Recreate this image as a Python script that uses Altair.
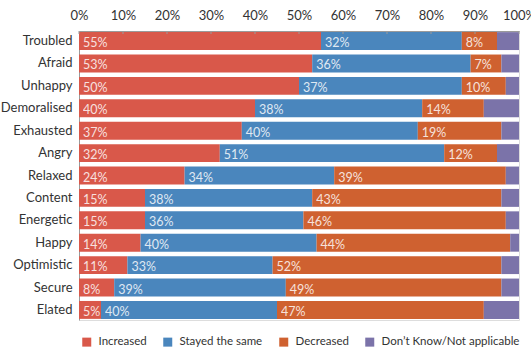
import altair as alt
import pandas as pd

emotions = ["Troubled", "Afraid", "Unhappy", "Demoralised", "Exhausted", "Angry",
            "Relaxed", "Content", "Energetic", "Happy", "Optimistic", "Secure", "Elated"]
increased = [55, 53, 50, 40, 37, 32, 24, 15, 15, 14, 11, 8, 5]
stayed = [32, 36, 37, 38, 40, 51, 34, 38, 36, 40, 33, 39, 40]
decreased = [8, 7, 10, 14, 19, 12, 39, 43, 46, 44, 52, 49, 47]
dont_know = [5, 4, 3, 8, 4, 5, 3, 4, 3, 2, 4, 4, 8]
responses = ["Increased", "Stayed the same", "Decreased", "Don’t Know/Not applicable"]
colors = ["#D9584A", "#4A86BD", "#CF6130", "#7B73A9"]
tick_values = [0, 10, 20, 30, 40, 50, 60, 70, 80, 90, 100]

FONT = "Lato"

rows = []
for i, emo in enumerate(emotions):
    for j, series in enumerate([increased, stayed, decreased, dont_know]):
        v = series[i]
        rows.append({"emotion": emo, "response": responses[j], "order": j,
                     "value": v, "label": f"{v}%" if j < 3 else ""})
df = pd.DataFrame(rows)

xscale = alt.Scale(domain=[0, 100], nice=False, zero=True)
yscale = alt.Scale(domain=emotions, paddingInner=0.2, paddingOuter=0.05)

base = alt.Chart(df)

bars = base.mark_bar().encode(
    x=alt.X("value:Q", stack="zero", scale=xscale, title=None,
            axis=alt.Axis(orient="top", values=tick_values, labelExpr="datum.value + '%'",
                          ticks=False, domain=True, domainColor="#9a9a9a", grid=False,
                          labelFont=FONT, labelFontSize=13, labelColor="#333333",
                          labelPadding=9, labelFlush=False)),
    y=alt.Y("emotion:N", sort=emotions, scale=yscale, title=None,
            axis=alt.Axis(ticks=False, domain=True, domainColor="#9a9a9a",
                          labelFont=FONT, labelFontSize=13, labelColor="#333333",
                          labelPadding=7)),
    color=alt.Color("response:N", scale=alt.Scale(domain=responses, range=colors),
                    legend=alt.Legend(orient="none", legendX=2, legendY=305,
                                      direction="horizontal", title=None,
                                      symbolType="square", symbolSize=81,
                                      symbolStrokeWidth=0, symbolOpacity=1,
                                      labelFont=FONT, labelFontSize=11.5,
                                      labelColor="#333333", labelOffset=6,
                                      columnPadding=15, labelLimit=300)),
    order=alt.Order("order:Q"),
)

labels = base.transform_stack(
    stack="value", groupby=["emotion"], sort=[alt.SortField("order")], as_=["x0", "x1"]
).transform_filter("datum.order < 3").mark_text(
    align="left", baseline="middle", dx=4, dy=2, font=FONT, fontSize=12.5,
    color="white", opacity=0.82
).encode(
    x=alt.X("x0:Q", scale=xscale, title=None),
    y=alt.Y("emotion:N", sort=emotions, scale=yscale, title=None),
    text="label:N",
)

tick_df = pd.DataFrame({"tick": tick_values})
ticks = alt.Chart(tick_df).mark_rule(color="#9a9a9a").encode(
    x=alt.X("tick:Q", scale=xscale, title=None),
    y=alt.value(0), y2=alt.value(3),
)

chart = alt.layer(bars, labels, ticks).properties(
    width=440, height=289,
    autosize=alt.AutoSizeParams(type="none"),
    padding={"left": 79, "top": 31, "right": 12, "bottom": 29},
).configure_view(stroke="#c4c4c4", strokeWidth=1).configure(background="white")

chart.save("out.html", embed_options={"renderer": "svg", "actions": False})
